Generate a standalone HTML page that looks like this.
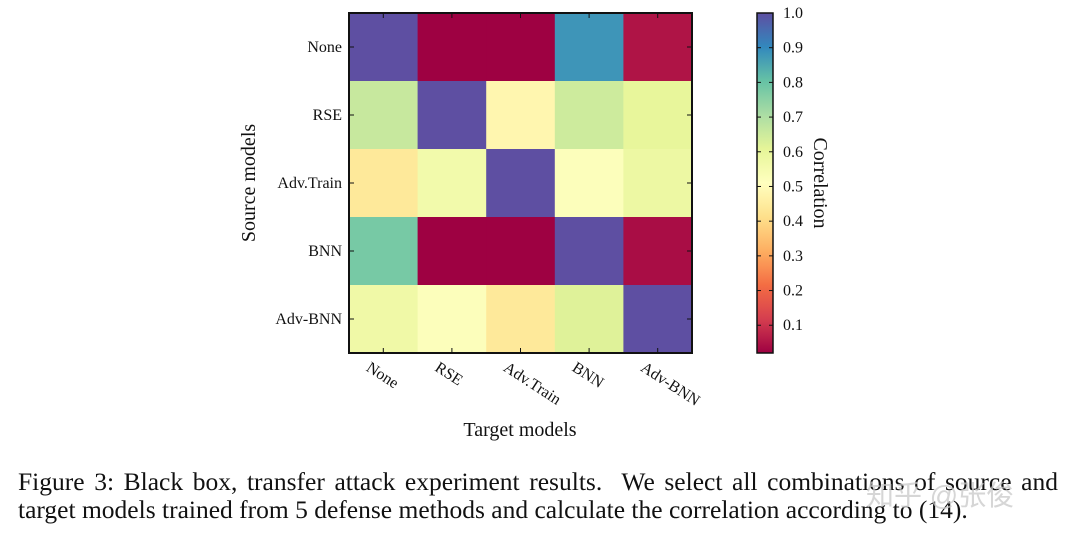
<!DOCTYPE html>
<html><head><meta charset="utf-8"><style>
body{margin:0;background:#fff;width:1080px;height:537px;overflow:hidden}
svg{display:block}
text{font-family:"Liberation Serif",serif;fill:#111}
.cap{position:absolute;left:18px;width:1040px;font:25.5px/28px 'Liberation Serif',serif;color:#111;white-space:nowrap}
</style></head><body>
<svg id="c" width="1080" height="537"></svg>
<script>
const models=["None","RSE","Adv.Train","BNN","Adv-BNN"];
const rowNone=[1.0,0.02,0.02,0.88,0.05];
const rowRSE=[0.66,1.0,0.48,0.65,0.6];
const rowAdvTrain=[0.44,0.56,1.0,0.52,0.58];
const rowBNN=[0.78,0.02,0.02,1.0,0.04];
const rowAdvBNN=[0.57,0.52,0.44,0.62,1.0];
const cbTicks=[0.1,0.2,0.3,0.4,0.5,0.6,0.7,0.8,0.9,1.0];
const vmin=0.02,vmax=1.0;
const rows=[rowNone,rowRSE,rowAdvTrain,rowBNN,rowAdvBNN];
const stops=["#9e0142","#d53e4f","#f46d43","#fdae61","#fee08b","#ffffbf","#e6f598","#abdda4","#66c2a5","#3288bd","#5e4fa2"];
const NS="http://www.w3.org/2000/svg",svg=document.getElementById('c');
function mk(t,a,p){const e=document.createElementNS(NS,t);for(const k in a)e.setAttribute(k,a[k]);(p||svg).appendChild(e);return e;}
function hx(h){return [1,3,5].map(i=>parseInt(h.substr(i,2),16));}
function cmap(v){let t=Math.max(0,Math.min(1,(v-vmin)/(vmax-vmin)))*10;let i=Math.min(9,Math.floor(t)),f=t-i;const a=hx(stops[i]),b=hx(stops[i+1]);
 return "rgb("+a.map((x,k)=>Math.round(x+(b[k]-x)*f)).join(",")+")";}
const L=349,R=692,T=13,B=353,cw=(R-L)/5,ch=(B-T)/5;
const xs=i=>L+i*cw, ys=j=>T+j*ch;
rows.forEach((r,j)=>r.forEach((v,i)=>{
 const e=mk('rect',{x:xs(i),y:ys(j),width:cw+0.5,height:ch+0.5,fill:cmap(v)});
 
 
}));
mk('rect',{x:L,y:T,width:R-L,height:B-T,fill:'none',stroke:'#111','stroke-width':2,});
models.forEach((m,k)=>{
 const cx=xs(k)+cw/2, cy=ys(k)+ch/2;
 mk('line',{x1:cx,y1:B,x2:cx,y2:B-5,stroke:'#111'});mk('line',{x1:cx,y1:T,x2:cx,y2:T+5,stroke:'#111'});
 mk('line',{x1:L,y1:cy,x2:L+5,y2:cy,stroke:'#111'});mk('line',{x1:R,y1:cy,x2:R-5,y2:cy,stroke:'#111'});
 const yl=mk('text',{x:342,y:cy+5,'text-anchor':'end','font-size':16});yl.textContent=m;
 
 
 const xl=mk('text',{x:cx-18,y:370,'font-size':16,transform:'rotate(33 '+(cx-18)+' 370)'});xl.textContent=m;
 
 
});
mk('text',{x:520,y:436,'text-anchor':'middle','font-size':20,}).textContent="Target models";
mk('text',{x:255,y:183,'text-anchor':'middle','font-size':20,transform:'rotate(-90 255 183)',}).textContent="Source models";
const cbL=757,cbW=16;
const cy2=v=>B-(v-vmin)/(vmax-vmin)*(B-T);
const g=mk('defs',{});const lg=mk('linearGradient',{id:'gr',x1:0,y1:1,x2:0,y2:0},g);
for(let k=0;k<=40;k++){const v=vmin+(vmax-vmin)*k/40;mk('stop',{offset:k/40,'stop-color':cmap(v)},lg);}
mk('rect',{x:cbL,y:T,width:cbW,height:B-T,fill:'url(#gr)',stroke:'#111','stroke-width':1.5,});
cbTicks.forEach(v=>{const y=cy2(v);
 mk('line',{x1:cbL,y1:y,x2:cbL+4,y2:y,stroke:'#111'});mk('line',{x1:cbL+cbW,y1:y,x2:cbL+cbW-4,y2:y,stroke:'#111'});
 const t=mk('text',{x:783,y:y+5,'font-size':16});t.textContent=v.toFixed(1);
 
 
});
mk('text',{x:814,y:183,'text-anchor':'middle','font-size':20,transform:'rotate(90 814 183)',}).textContent="Correlation";
</script>
<div class="cap" style="top:468px;text-align:justify;text-align-last:justify;white-space:normal">Figure 3: Black box, transfer attack experiment results. &nbsp;We select all combinations of source and</div>
<div class="cap" style="top:496px">target models trained from 5 defense methods and calculate the correlation according to (14).</div>
<div style="position:absolute;left:866px;top:474px;font:28px 'Liberation Sans','Noto Sans CJK SC',sans-serif;color:rgba(200,200,200,0.75)">知乎 @张俊</div>
</body></html>
